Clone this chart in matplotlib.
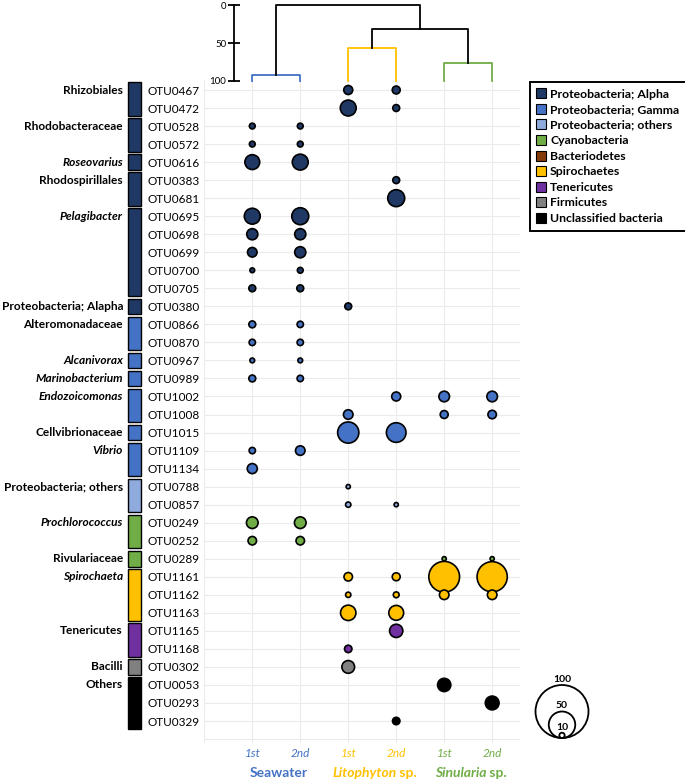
import matplotlib.pyplot as plt
from matplotlib.patches import Rectangle
from matplotlib.lines import Line2D
from matplotlib.offsetbox import TextArea, HPacker, AnnotationBbox
from matplotlib.transforms import blended_transform_factory

plt.rcParams['font.family'] = ['Lato', 'DejaVu Sans']

# OTUs, top to bottom
otu_ids = ['OTU0467', 'OTU0472', 'OTU0528', 'OTU0572', 'OTU0616', 'OTU0383',
           'OTU0681', 'OTU0695', 'OTU0698', 'OTU0699', 'OTU0700', 'OTU0705',
           'OTU0380', 'OTU0866', 'OTU0870', 'OTU0967', 'OTU0989', 'OTU1002',
           'OTU1008', 'OTU1015', 'OTU1109', 'OTU1134', 'OTU0788', 'OTU0857',
           'OTU0249', 'OTU0252', 'OTU0289', 'OTU1161', 'OTU1162', 'OTU1163',
           'OTU1165', 'OTU1168', 'OTU0302', 'OTU0053', 'OTU0293', 'OTU0329']

# taxonomy groups (label, number of OTUs, italic?, phylum index)
group_names = ['Rhizobiales', 'Rhodobacteraceae', 'Roseovarius', 'Rhodospirillales',
               'Pelagibacter', 'Proteobacteria; Alapha', 'Alteromonadaceae',
               'Alcanivorax', 'Marinobacterium', 'Endozoicomonas', 'Cellvibrionaceae',
               'Vibrio', 'Proteobacteria; others', 'Prochlorococcus', 'Rivulariaceae',
               'Spirochaeta', 'Tenericutes', 'Bacilli', 'Others']
group_sizes = [2, 2, 1, 2, 5, 1, 2, 1, 1, 2, 1, 2, 2, 2, 1, 3, 2, 1, 3]
group_italic = [False, False, True, False, True, False, False, True, True, True,
                False, True, False, True, False, True, False, False, False]
group_phylum = [0, 0, 0, 0, 0, 0, 1, 1, 1, 1, 1, 1, 2, 3, 3, 5, 6, 7, 8]

phyla = ['Proteobacteria; Alpha', 'Proteobacteria; Gamma', 'Proteobacteria; others',
         'Cyanobacteria', 'Bacteriodetes', 'Spirochaetes', 'Tenericutes',
         'Firmicutes', 'Unclassified bacteria']
phylum_colors = ['#1f3864', '#4472c4', '#8faadc', '#70ad47', '#843c0c',
                 '#ffc000', '#7030a0', '#808080', '#000000']

sample_labels = ['1st', '2nd', '1st', '2nd', '1st', '2nd']
host_names = ['Seawater', 'Litophyton', 'Sinularia']
host_colors = ['#4472c4', '#ffc000', '#70ad47']

# relative abundance (%), 0 = not shown
seawater_1st = [0, 0, 11, 11, 28, 0, 0, 30, 21, 18, 9, 13,
                0, 13, 12, 9, 13, 0, 0, 0, 12, 19,
                0, 0, 22, 16, 0, 0, 0, 0, 0, 0, 0, 0, 0, 0]
seawater_2nd = [0, 0, 11, 11, 30, 0, 0, 32, 21, 21, 11, 13,
                0, 12, 12, 9, 12, 0, 0, 0, 18, 0,
                0, 0, 22, 16, 0, 0, 0, 0, 0, 0, 0, 0, 0, 0]
lito_1st = [17, 30, 0, 0, 0, 0, 0, 0, 0, 0, 0, 0,
            13, 0, 0, 0, 0, 0, 18, 40, 0, 0,
            8, 10, 0, 0, 0, 16, 10, 29, 0, 14, 24, 0, 0, 0]
lito_2nd = [15, 13, 0, 0, 0, 13, 32, 0, 0, 0, 0, 0,
            0, 0, 0, 0, 0, 17, 0, 37, 0, 0,
            0, 8, 0, 0, 0, 15, 11, 28, 25, 0, 0, 0, 0, 14]
sinu_1st = [0, 0, 0, 0, 0, 0, 0, 0, 0, 0, 0, 0,
            0, 0, 0, 0, 0, 20, 15, 0, 0, 0,
            0, 0, 0, 0, 8, 58, 18, 0, 0, 0, 0, 25, 0, 0]
sinu_2nd = [0, 0, 0, 0, 0, 0, 0, 0, 0, 0, 0, 0,
            0, 0, 0, 0, 0, 20, 16, 0, 0, 0,
            0, 0, 0, 0, 8, 57, 18, 0, 0, 0, 0, 0, 26, 0]
columns = [seawater_1st, seawater_2nd, lito_1st, lito_2nd, sinu_1st, sinu_2nd]

# cluster heights (similarity) for the dendrogram
seawater_join = 92
lito_join = 57
sinu_join = 76
coral_join = 31
root_join = 0

size_keys = [100, 50, 10]

PX = 0.53          # bubble diameter in px per unit
W, H = 685, 782


def bubble_s(v):
    return (v * PX * 72 / 100) ** 2


fig = plt.figure(figsize=(W / 100, H / 100), dpi=100)

# main bubble panel
ax_l, ax_r, ax_t, ax_b = 204.3, 520, 80, 743
ax = fig.add_axes([ax_l / W, 1 - ax_b / H, (ax_r - ax_l) / W, (ax_b - ax_t) / H])
n = len(otu_ids)
rows = list(range(1, n + 1))
ax.set_xlim(0, 6.58)
ax.set_ylim(37.22, 0.445)
for s in ax.spines.values():
    s.set_visible(False)
for x in range(0, 7):
    ax.axvline(x, color='#ebebeb', lw=0.8, zorder=0)
for r in range(1, n + 2):
    ax.axhline(r, color='#ebebeb', lw=0.8, zorder=0)

row_colors = []
for g, size in enumerate(group_sizes):
    row_colors += [phylum_colors[group_phylum[g]]] * size

pts = []
for j, col in enumerate(columns):
    for i, v in enumerate(col):
        if v > 0:
            pts.append((v, j + 1, i + 1, row_colors[i]))
pts.sort(key=lambda p: -p[0])
ax.scatter([p[1] for p in pts], [p[2] for p in pts],
           s=[bubble_s(p[0]) for p in pts], c=[p[3] for p in pts],
           edgecolors='black', linewidths=1.2, zorder=3, clip_on=False)

ax.set_xticks(range(1, 7), sample_labels, fontsize=8.5, style='italic')
for k, lbl in enumerate(ax.get_xticklabels()):
    lbl.set_color(host_colors[k // 2])
ax.set_yticks(rows, otu_ids, fontsize=8.5)
for lbl in ax.get_yticklabels():
    lbl.set_ha('left')
ax.tick_params(axis='x', length=0, pad=3.5)
ax.tick_params(axis='y', length=0, pad=(ax_l - 148) * 0.72)

# group colour bars and names
tr = blended_transform_factory(fig.transFigure, ax.transData)
start = 1
for g, size in enumerate(group_sizes):
    end = start + size - 1
    ax.add_patch(Rectangle((128 / W, start - 0.43), 12.5 / W, end - start + 0.86,
                           transform=tr, facecolor=phylum_colors[group_phylum[g]],
                           edgecolor='black', lw=1.0, clip_on=False))
    fig.text(123 / W, start, group_names[g], transform=tr, ha='right', va='center',
             fontsize=8.6, fontweight='bold',
             style='italic' if group_italic[g] else 'normal')
    start = end + 1

# host names under the sample labels
trb = blended_transform_factory(ax.transData, fig.transFigure)
for h in range(3):
    bold = dict(fontsize=10, fontweight='bold', color=host_colors[h])
    if h == 0:
        parts = [TextArea(host_names[h], textprops=bold)]
    else:
        parts = [TextArea(host_names[h], textprops=dict(bold, style='italic')),
                 TextArea(' sp.', textprops=bold)]
    box = HPacker(children=parts, sep=0, pad=0, align='baseline')
    ab = AnnotationBbox(box, (2 * h + 1.5 + 0.05, 1 - 773 / H), xycoords=trb,
                        frameon=False, box_alignment=(0.5, 0.5), pad=0)
    fig.add_artist(ab)

# dendrogram
d_l, d_t, d_b = 234, 5.3, 81
dax = fig.add_axes([d_l / W, 1 - d_b / H, (ax_r - d_l) / W, (d_b - d_t) / H])
dax.set_xlim((d_l - ax_l) / (ax_r - ax_l) * 6.58, 6.58)
dax.set_ylim(100, 0)
for side in ['top', 'right', 'bottom']:
    dax.spines[side].set_visible(False)
dax.spines['left'].set_linewidth(1.3)
dax.set_xticks([])
dax.set_yticks([0, 50, 100])
dax.tick_params(axis='y', direction='inout', length=9, width=1.3, labelsize=7, pad=1)
dax.patch.set_alpha(0)
lw = 1.3
dax.plot([1, 1, 2, 2], [100, seawater_join, seawater_join, 100], color=host_colors[0], lw=lw, clip_on=False)
dax.plot([3, 3, 4, 4], [100, lito_join, lito_join, 100], color=host_colors[1], lw=lw, clip_on=False)
dax.plot([5, 5, 6, 6], [100, sinu_join, sinu_join, 100], color=host_colors[2], lw=lw, clip_on=False)
dax.plot([3.5, 3.5, 5.5, 5.5], [lito_join, coral_join, coral_join, sinu_join], color='black', lw=lw, clip_on=False)
dax.plot([1.5, 1.5, 4.5, 4.5], [seawater_join, root_join, root_join, coral_join], color='black', lw=lw, clip_on=False)

# phylum legend
handles = [Line2D([], [], marker='s', ls='', markerfacecolor=c, markeredgecolor='black',
                  markersize=7, markeredgewidth=0.8) for c in phylum_colors]
leg = fig.legend(handles, phyla, loc='upper left', bbox_to_anchor=(530 / W, 1 - 82 / H),
                 frameon=True, fancybox=False, edgecolor='black', framealpha=1,
                 prop=dict(weight='bold', size=8.8), handlelength=0.7,
                 handletextpad=0.4, labelspacing=0.37, borderpad=0.55,
                 borderaxespad=0)
leg.get_frame().set_linewidth(1.4)

# bubble size key
sax = fig.add_axes([520 / W, 1 - 745 / H, 90 / W, 75 / H])
sax.set_xlim(0, 90)
sax.set_ylim(0, 75)
sax.set_axis_off()
for v in size_keys:
    d = v * PX
    sax.scatter([42], [7 + d / 2], s=bubble_s(v), facecolors='none',
                edgecolors='black', linewidths=1.3, clip_on=False)
    sax.text(42, 7 + d + 1, str(v), ha='center', va='bottom', fontsize=7.5,
             fontweight='bold')

fig.savefig('out.png', dpi=100)
